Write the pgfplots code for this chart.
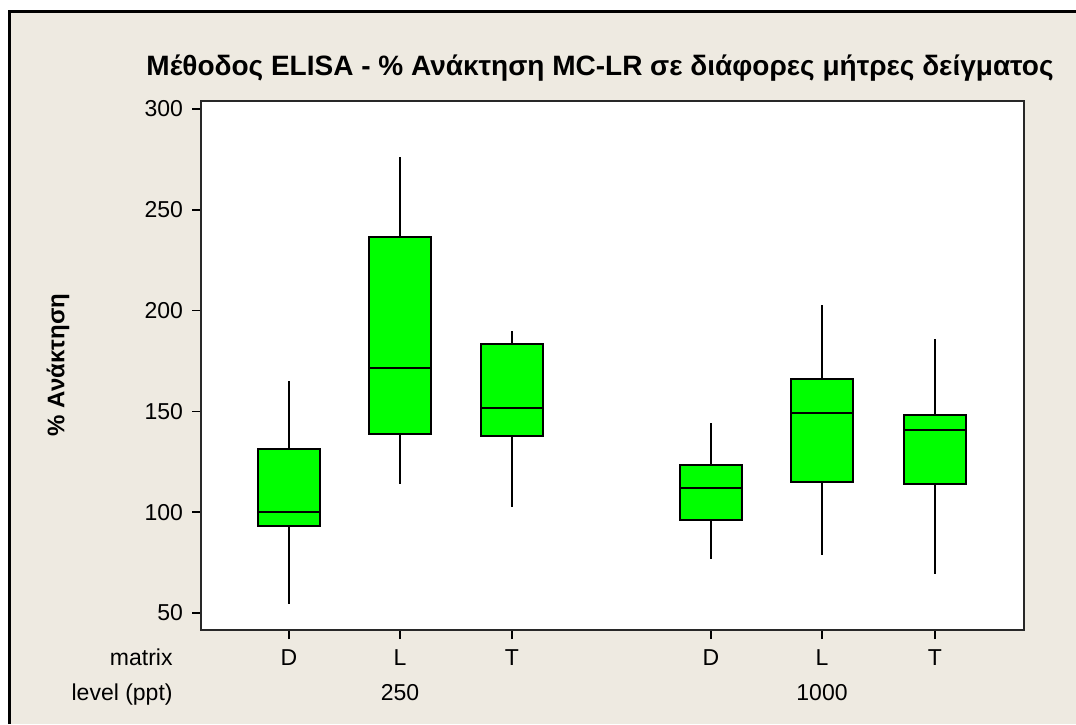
\documentclass[border=0pt]{standalone}
\usepackage{fontspec}
\setmainfont{Liberation Sans}
\usepackage{pgfplots}
\pgfplotsset{compat=1.18}
\usepgfplotslibrary{statistics}
\definecolor{bgbeige}{RGB}{238,234,225}
\definecolor{boxgreen}{RGB}{0,255,0}
\definecolor{axgray}{RGB}{40,40,40}
\newcommand{\fs}{\fontsize{11.5}{13.8}\selectfont}
\begin{document}
\begin{tikzpicture}
\useasboundingbox (0,0) rectangle (538pt,362pt);
\fill[white] (0,0) rectangle (538pt,362pt);
\fill[bgbeige] (4.5pt,0) rectangle (538pt,356.25pt);
\draw[black, line width=1.5pt] (4.5pt,0) -- (4.5pt,356.25pt) -- (538pt,356.25pt);
\begin{axis}[
  at={(100.5pt,47pt)}, anchor=south west,
  scale only axis, width=411.5pt, height=264.5pt,
  xmin=201, xmax=1024, ymin=41.6, ymax=304,
  axis background/.style={fill=white},
  axis line style={axgray, line width=0.8pt},
  xtick={289,400,512,711,822,935},
  xticklabels={D,L,T,D,L,T},
  ytick={50,100,150,200,250,300},
  xtick pos=bottom, ytick pos=left,
  tick align=outside, major tick length=4.5pt,
  every tick/.style={black, line width=0.8pt},
  tick label style={font=\fs},
  /pgf/number format/assume math mode=true,
  yticklabel style={xshift=-1pt},
  xticklabel style={yshift=-2pt},
  clip=false,
  boxplot/draw direction=y,
  boxplot/every box/.style={draw=black, line width=1pt, fill=boxgreen},
  boxplot/every median/.style={draw=black, line width=1pt},
  boxplot/every whisker/.style={draw=black, line width=0.7pt},
]
\addplot[boxplot prepared={lower whisker=54.6, lower quartile=93.3, median=100, upper quartile=131.3, upper whisker=164.9, draw position=289, box extend=62, whisker extend=0}] coordinates {};
\addplot[boxplot prepared={lower whisker=114, lower quartile=138.9, median=171.4, upper quartile=236.4, upper whisker=276.3, draw position=400, box extend=62, whisker extend=0}] coordinates {};
\addplot[boxplot prepared={lower whisker=102.7, lower quartile=137.9, median=151.8, upper quartile=183.4, upper whisker=189.7, draw position=512, box extend=62, whisker extend=0}] coordinates {};
\addplot[boxplot prepared={lower whisker=76.8, lower quartile=96.3, median=112, upper quartile=123.2, upper whisker=144.4, draw position=711, box extend=62, whisker extend=0}] coordinates {};
\addplot[boxplot prepared={lower whisker=78.6, lower quartile=114.8, median=149.2, upper quartile=165.9, upper whisker=202.8, draw position=822, box extend=62, whisker extend=0}] coordinates {};
\addplot[boxplot prepared={lower whisker=69.3, lower quartile=114, median=140.8, upper quartile=148.2, upper whisker=186.1, draw position=935, box extend=62, whisker extend=0}] coordinates {};
\end{axis}
\node[anchor=base, font=\bfseries\fontsize{14}{16.8}\selectfont, inner sep=0pt] at (300pt,324pt) {Μέθοδος ELISA - \% Ανάκτηση MC-LR σε διάφορες μήτρες δείγματος};
\node[rotate=90, font=\bfseries\fontsize{12}{14}\selectfont, inner sep=0pt] at (29pt,179.5pt) {\% Ανάκτηση};
\node[anchor=base east, font=\fs, inner sep=0pt] at (86.5pt,29.5pt) {matrix};
\node[anchor=base east, font=\fs, inner sep=0pt] at (86.5pt,12pt) {level (ppt)};
\node[anchor=base, font=\fs, inner sep=0pt] at (200pt,12pt) {250};
\node[anchor=base, font=\fs, inner sep=0pt] at (411pt,12pt) {1000};
\end{tikzpicture}
\end{document}
